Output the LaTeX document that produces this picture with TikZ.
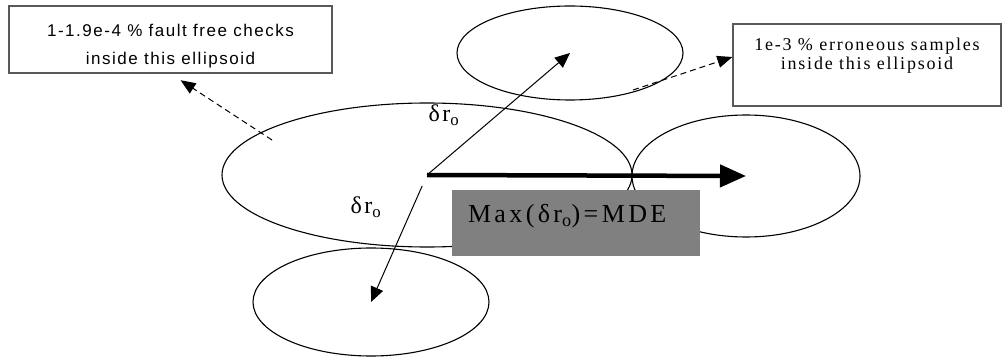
\documentclass[tikz,border=0pt]{standalone}
\usepackage{fontspec}
\setmainfont{Liberation Serif}
\newfontfamily\notesans[LetterSpace=9]{Liberation Sans}
\newfontfamily\noteserif[LetterSpace=10]{Liberation Serif}
\newfontfamily\wideserif[LetterSpace=13]{Liberation Serif}
\usetikzlibrary{positioning,arrows.meta,shapes.geometric}

\begin{document}
\begin{tikzpicture}[x=1pt,y=-1pt,
  ellip/.style={draw, ellipse, line width=1.1pt, inner sep=0pt},
  vec/.style={line width=1pt, -{Triangle[length=15pt,width=13pt]}},
  note/.style={draw=black!65, line width=1.3pt, inner sep=0pt},
  hint/.style={line width=1pt, dash pattern=on 6pt off 4pt, -{Triangle[length=15pt,width=12pt]}},
  delta/.style={font=\noteserif\fontsize{24}{28}\selectfont, inner sep=0pt}]
  \useasboundingbox (0,0) rectangle (1007,358);

  % ellipsoids
  \node[ellip, minimum width=410pt, minimum height=144pt] (big) at (427,175) {};
  \node[ellip, minimum width=226pt, minimum height=94pt] (upper) at (570,53) {};
  \node[ellip, minimum width=228pt, minimum height=122pt] (side) at (746,176) {};
  \node[ellip, minimum width=236pt, minimum height=108pt] (lower) at (371,302) {};

  % vectors
  \draw[vec] (big.center) -- (upper.center);
  \draw[vec, shorten <=12pt] (big.center) -- (lower.center);
  \draw[line width=4.5pt, -{Triangle[length=26pt,width=22pt]}] (big.center) -- (side.center);

  \node[delta] (drtop) at (444,115) {δr\textsubscript{o}};
  \node[delta] (drbot) at (366,207) {δr\textsubscript{o}};

  % boxes
  \node[note, minimum width=323pt, minimum height=67pt] (faultbox) at (170.5,39.5) {};
  \node[align=center, font=\notesans\fontsize{17}{28}\selectfont, yshift=-6.7pt] (faulttext) at (faultbox)
    {1-1.9e-4 \% fault free checks\\inside this ellipsoid};

  \node[note, minimum width=268pt, minimum height=82pt] (errbox) at (867,65) {};
  \node[align=center, font=\noteserif\fontsize{18}{19}\selectfont, yshift=9pt] (errtext) at (errbox)
    {1e-3 \% erroneous samples\\inside this ellipsoid};

  \node[fill=black!50, minimum width=248pt, minimum height=66pt, inner sep=0pt] (mdebox) at (576,223) {};
  \node[anchor=base west, inner sep=0pt, font=\wideserif\fontsize{26}{30}\selectfont] (mdetext)
    at ([xshift=16pt]mdebox.west) {Max(δr\textsubscript{o})=MDE};

  % pointers
  \coordinate (fdash) at (272,140);
  \coordinate (edash) at (633,90);
  \draw[hint, shorten >=12pt] (fdash) -- (faultbox.south);
  \draw[hint] (edash) -- ([yshift=8pt]errbox.west);
\end{tikzpicture}
\end{document}
